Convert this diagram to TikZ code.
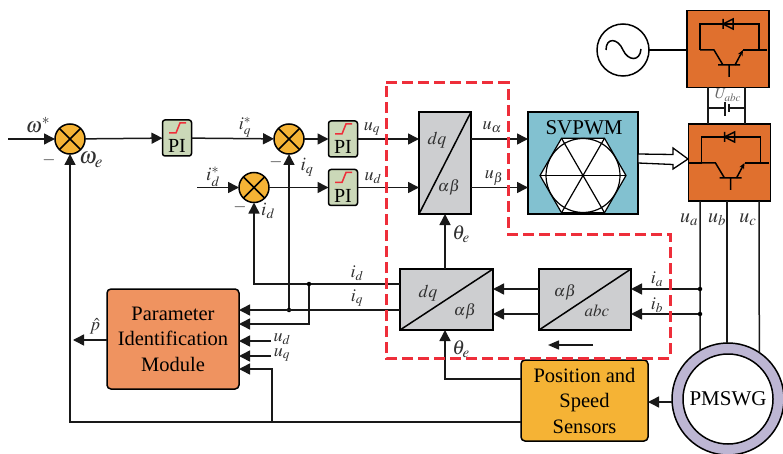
\documentclass[tikz,border=0pt]{standalone}
\usepackage[no-math]{fontspec}
\usepackage{mathptmx}
\setmainfont{Liberation Serif}
\usepackage{xcolor}
\usetikzlibrary{arrows.meta,calc}

\definecolor{sumfill}{HTML}{F5B335}
\definecolor{pifill}{HTML}{CBD8B8}
\definecolor{convfill}{HTML}{CDCED0}
\definecolor{svfill}{HTML}{82C1D0}
\definecolor{igbtfill}{HTML}{E0702E}
\definecolor{pimfill}{HTML}{EF9360}
\definecolor{motorfill}{HTML}{BDB6D3}
\definecolor{dashred}{HTML}{EE2E3A}
\definecolor{lbl}{HTML}{303030}

\newcommand{\pitext}{\raisebox{-15pt}[0pt][0pt]{PI}}

\tikzset{
  wire/.style={line width=1.5pt,black!90},
  arr/.style={wire,-{Triangle[length=11pt,width=11pt]}},
  sumnode/.style={circle,draw,line width=1.5pt,fill=sumfill,minimum size=30pt,inner sep=0pt,outer sep=0pt,
    path picture={\draw[line width=1.5pt] (path picture bounding box.north west) -- (path picture bounding box.south east)
      (path picture bounding box.north east) -- (path picture bounding box.south west);}},
  pinode/.style={rectangle,rounded corners=2.5pt,draw,line width=1.5pt,fill=pifill,minimum width=29pt,minimum height=36pt,inner sep=0pt,outer sep=0pt,
    font=\fontsize{20}{20}\selectfont,
    path picture={\draw[dashred,line width=1.5pt,sharp corners] ([shift={(-8,-5)}]path picture bounding box.center) -- ++(7,0) -- ++(4,-10) -- ++(6,0);}},
  convnode/.style={rectangle,draw,line width=1.5pt,fill=convfill,inner sep=0pt,outer sep=0pt,
    path picture={\draw[line width=1.5pt] (path picture bounding box.south west) -- (path picture bounding box.north east);}},
  blocknode/.style={rectangle,rounded corners=4pt,draw,line width=1.5pt,align=center,inner sep=0pt,outer sep=0pt,
    font=\fontsize{20.5}{25.5}\selectfont},
  bridgenode/.style={rectangle,draw,line width=1.5pt,fill=igbtfill,minimum width=82pt,minimum height=77pt,inner sep=0pt,outer sep=0pt},
  labelnode/.style={inner sep=0pt,text=lbl,font=\fontsize{18}{18}\selectfont},
  dotnode/.style={circle,fill=black,minimum size=4.5pt,inner sep=0pt},
  igbt/.pic={
    \draw[line width=1.5pt] (13,39) -- (13,13) -- (72,13) -- (72,39);
    \draw[line width=1.5pt] (13,39) -- (27,39) -- (36,54) (31,54) -- (53,54) (42,54) -- (42,66);
    \draw[line width=1.5pt,-{Stealth[length=6pt,width=5pt]}] (48,54) -- (56,39);
    \draw[line width=1.5pt] (56,39) -- (80,39);
    \draw[line width=1.5pt] (36,8) -- (36,18) (36,13) -- (46,8) -- (46,18) -- cycle;
  }
}

\begin{document}
\begin{tikzpicture}[x=1pt,y=-1pt]
    \useasboundingbox (0,0) rectangle (783,454);

    % speed and current loops
    \coordinate (in1) at (8,139);
    \coordinate (in2) at (197,187.5);
    \node [style=sumnode] (S1) at (70,139) {};
    \node [style=pinode] (P1) at (177,138) {\pitext};
    \node [style=sumnode] (S2) at (289,139) {};
    \node [style=pinode] (P2) at (343,139) {\pitext};
    \node [style=sumnode] (S3) at (254,187.5) {};
    \node [style=pinode] (P3) at (343,187.5) {\pitext};

    % converters
    \node [style=convnode,minimum width=52pt,minimum height=102pt] (T1) at (445,163) {};
    \node [style=convnode,minimum width=93pt,minimum height=61pt] (T2) at (446.5,299.5) {};
    \node [style=convnode,minimum width=92pt,minimum height=61pt] (T3) at (585,299.5) {};
    \node [rectangle,draw,line width=1.5pt,fill=svfill,minimum width=110pt,minimum height=102pt,inner sep=0pt,outer sep=0pt] (SV) at (583,163) {};
    \coordinate (H) at (583,175.5);
    \draw[line width=1.2pt,fill=white] (H) ++(0:43) -- ++(120:43) -- ++(180:43) -- ++(240:43) -- ++(300:43) -- ++(0:43) -- cycle;
    \draw[line width=1.2pt] (H) circle (37);
    \foreach \a in {0,60,120} {
        \draw[line width=1.2pt] ($(H)+(\a:43)$) -- ($(H)+(\a+180:43)$);
    }
    \node [font=\fontsize{21}{21}\selectfont] (SVt) at (584,128) {SVPWM};

    % text on the converters
    \node [labelnode] (t1a) at (437,140) {$dq$};
    \node [labelnode,font=\fontsize{16}{16}\selectfont] (t1b) at (449,187) {$\alpha\beta$};
    \node [labelnode] (t2a) at (428,293) {$dq$};
    \node [labelnode,font=\fontsize{16}{16}\selectfont] (t2b) at (465,311) {$\alpha\beta$};
    \node [labelnode,font=\fontsize{16}{16}\selectfont] (t3a) at (565,292) {$\alpha\beta$};
    \node [labelnode,font=\fontsize{17}{17}\selectfont] (t3b) at (597,311) {$abc$};

    % big blocks
    \node [style=blocknode,fill=pimfill,minimum width=132pt,minimum height=100pt] (PIM) at (173,339) {Parameter\\Identification\\Module};
    \node [style=blocknode,fill=sumfill,minimum width=127pt,minimum height=81pt] (POS) at (584.5,400.5) {Position and\\Speed\\Sensors};
    \node [circle,draw,line width=1.5pt,fill=motorfill,minimum size=112pt,inner sep=0pt,outer sep=0pt] (M) at (728,399) {};
    \node [circle,draw,line width=1.5pt,fill=white,minimum size=90pt,inner sep=0pt,font=\fontsize{21}{21}\selectfont] (Mi) at (728,399) {PMSWG};

    % inverter part
    \node [style=bridgenode] (B1) at (728,49) {};
    \node [style=bridgenode] (B2) at (729.5,162.5) {};
    \pic at (687,11) {igbt};
    \pic at (688.5,124) {igbt};
    \coordinate (g2) at (701.5,163);
    \draw[line width=1.5pt] (B2.west |- g2) -- (g2);
    \node [circle,draw,line width=1.5pt,fill=white,minimum size=52pt,inner sep=0pt,outer sep=0pt] (AC) at (623,50) {};
    \draw[line width=1.5pt] (606,50) .. controls (606,37) and (618,38) .. (623,50) .. controls (628,61) and (640,62) .. (641,49);
    \draw[line width=1.5pt] (AC) -- (B1.west |- AC);

    % dc link
    \coordinate (c1) at (708,108);
    \coordinate (c2) at (745,108);
    \coordinate (c3) at (725,108);
    \coordinate (c4) at (729,108);
    \draw[wire] (708,87) -- (708,124);
    \draw[wire] (745,87) -- (745,124);
    \draw[wire] (c1) -- (c3);
    \draw[wire] (c4) -- (c2);
    \draw[wire] (725,102) -- (725,116);
    \draw[wire] (729,104) -- (729,112);
    \node [labelnode,font=\fontsize{15}{15}\selectfont,text=black!60] (Uabc) at (728,95) {$U_{abc}$};

    % hollow arrow
    \draw[line width=1.3pt,fill=white] (638,154) -- (673,154.5) -- (673,148) -- (688,159) -- (673,169) -- (673,164.5) -- (638,163) -- cycle;

    % forward path
    \draw[arr] (in1) -- (S1);
    \draw[arr] (S1) -- (P1);
    \draw[arr] (P1) -- (S2);
    \draw[arr] (S2) -- (P2);
    \draw[arr] (in2) -- (S3);
    \draw[arr] (S3) -- (P3);
    \draw[arr] (P2) -- (T1.west |- P2);
    \draw[arr] (P3) -- (T1.west |- P3);
    \draw[arr] (T1.east |- P2) -- (SV.west |- P2);
    \draw[arr] (T1.east |- P3) -- (SV.west |- P3);
    \draw[arr] (T2.north -| T1) -- (T1.south);

    % machine lines
    \coordinate (ua) at (700,201);
    \coordinate (ub) at (727,201);
    \coordinate (uc) at (759,201);
    \draw[wire] (ua) -- (M.120);
    \draw[wire] (ub) -- (M.north -| ub);
    \draw[wire] (uc) -- (M.56);
    \node [style=dotnode] (Da) at (700,289) {};
    \node [style=dotnode] (Db) at (700,314) {};
    \draw[arr] (Da) -- (T3.east |- Da);
    \draw[arr] (Db) -- (T3.east |- Db);
    \draw[arr] (T3.west |- Da) -- (T2.east |- Da);
    \draw[arr] (T3.west |- Db) -- (T2.east |- Db);

    % feedback
    \coordinate (id) at (400,284);
    \coordinate (iq) at (400,310);
    \node [style=dotnode] (Dd) at (309,284) {};
    \node [style=dotnode] (Dq) at (289,310) {};
    \draw[wire] (id) -- (Dd);
    \draw[arr] (Dd) -- (S3 |- Dd) -- (S3);
    \draw[arr] (Dd) -- (309,324) -- (PIM.east |- 0,324);
    \draw[arr] (iq) -- (PIM.east |- iq);
    \draw[arr] (Dq) -- (S2);
    \draw[arr] (POS.west |- 0,379) -- (T1 |- 0,379) -- (T2.south -| T1);
    \draw[arr] (M.west |- 0,402) -- (POS.east |- 0,402);
    \draw[arr] (POS.west |- 0,422) -- (S1 |- 0,422) -- (S1);
    \coordinate (Dp) at (272,422);
    \draw[arr] (Dp) -- (272,369) -- (PIM.east |- 0,369);
    \coordinate (ud) at (271,341);
    \coordinate (uq) at (271,356);
    \draw[arr] (ud) -- (PIM.east |- ud);
    \draw[arr] (uq) -- (PIM.east |- uq);
    \coordinate (pp) at (73,340);
    \draw[arr] (PIM.west |- pp) -- (pp);
    \coordinate (sa) at (593,345);
    \coordinate (sb) at (548,345);
    \draw[wire,-{Triangle[length=11pt,width=9pt]}] (sa) -- (sb);

    % dashed frame
    \draw[dashred,line width=3pt,dash pattern=on 11pt off 5pt] (386,83) -- (508,83) -- (508,234) -- (670,234) -- (670,358) -- (386,358) -- cycle;

    % labels
    \node [labelnode,font=\fontsize{21}{21}\selectfont] (l1) at (38,125) {$\omega^{*}$};
    \node [labelnode,font=\fontsize{23}{23}\selectfont] (l2) at (91,160) {$\omega_{e}$};
    \node [labelnode,font=\fontsize{17}{17}\selectfont] (m1) at (49,160) {$-$};
    \node [labelnode] (l3) at (245,127) {$i_{q}^{*}$};
    \node [labelnode,font=\fontsize{17}{17}\selectfont] (m2) at (276,162) {$-$};
    \node [labelnode,font=\fontsize{19}{19}\selectfont] (l4) at (307,167) {$i_{q}$};
    \node [labelnode,font=\fontsize{19}{19}\selectfont] (l5) at (213,177) {$i_{d}^{*}$};
    \node [labelnode,font=\fontsize{17}{17}\selectfont] (m3) at (240,207) {$-$};
    \node [labelnode,font=\fontsize{19}{19}\selectfont] (l6) at (268,211) {$i_{d}$};
    \node [labelnode] (l7) at (372,129) {$u_{q}$};
    \node [labelnode] (l8) at (373,178) {$u_{d}$};
    \node [labelnode] (l9) at (492,127) {$u_{\alpha}$};
    \node [labelnode] (l10) at (494,178) {$u_{\beta}$};
    \node [labelnode,font=\fontsize{20}{20}\selectfont] (l11) at (461,234) {$\theta_{e}$};
    \node [labelnode,font=\fontsize{20}{20}\selectfont] (l12) at (461,349) {$\theta_{e}$};
    \node [labelnode] (l13) at (357,273) {$i_{d}$};
    \node [labelnode] (l14) at (357,298) {$i_{q}$};
    \node [labelnode] (l15) at (282,339) {$u_{d}$};
    \node [labelnode] (l16) at (282,355) {$u_{q}$};
    \node [labelnode] (l17) at (95,326) {$\hat{p}$};
    \node [labelnode] (l18) at (657,279) {$i_{a}$};
    \node [labelnode] (l19) at (657,305) {$i_{b}$};
    \node [labelnode,font=\fontsize{20}{20}\selectfont] (l20) at (689,220) {$u_{a}$};
    \node [labelnode,font=\fontsize{20}{20}\selectfont] (l21) at (717,220) {$u_{b}$};
    \node [labelnode,font=\fontsize{20}{20}\selectfont] (l22) at (748,220) {$u_{c}$};
\end{tikzpicture}
\end{document}
